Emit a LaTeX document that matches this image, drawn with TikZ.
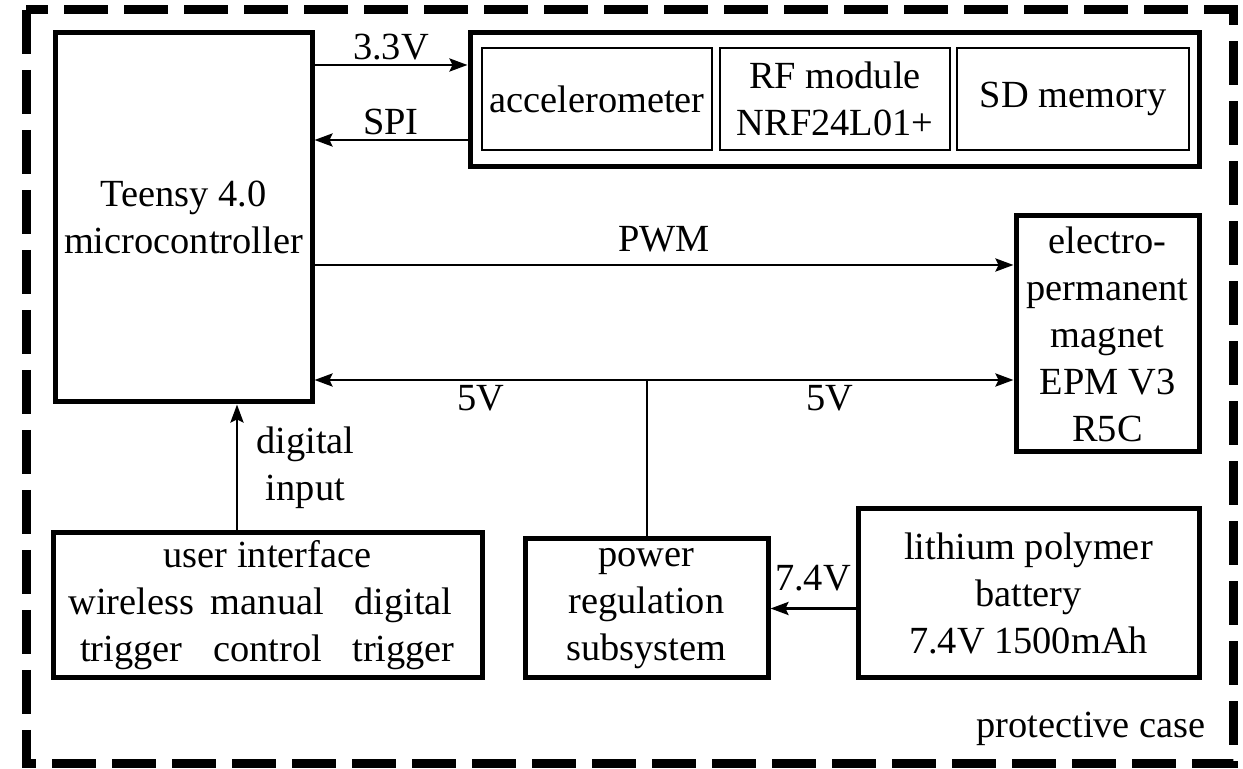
\documentclass[tikz,border=0pt]{standalone}
\usepackage{fontspec}
\setmainfont{Liberation Serif}
\usetikzlibrary{arrows.meta}

\newcommand\diagfont{\fontsize{19.2pt}{23.5pt}\selectfont}

\tikzset{
	blk/.style={draw,line width=2.5pt,inner sep=1pt,align=center,font=\diagfont},
	sub/.style={draw,line width=1.2pt,inner sep=1pt,align=center,minimum width=115pt,minimum height=51pt,font=\diagfont},
	lbl/.style={inner sep=2pt,font=\diagfont},
}

\begin{document}
\begin{tikzpicture}[x=0.5pt,y=-0.5pt,line width=1.4pt,>={Stealth[length=9pt,width=6.5pt,inset=1.5pt]}]
	\useasboundingbox (0,0) rectangle (1243,769);
	% case outline
	\draw[line width=4.5pt,dash pattern=on 22pt off 8pt] (26,10) rectangle (1233,764);
	% blocks
	\node[blk,minimum width=128.5pt,minimum height=184.5pt] (teensy) at (183.5,217.5) {Teensy 4.0\\microcontroller};
	\node[blk,minimum width=364.5pt,minimum height=67pt] (sensors) at (834.5,100) {};
	\node[sub] (accel) at (597,99) {accelerometer};
	\node[sub] (rfmod) at (835,99) {RF module\\NRF24L01+};
	\node[sub,minimum width=116pt] (sdmem) at (1073,99) {SD memory};
	\node[blk,minimum width=91.5pt,minimum height=118pt] (epm) at (1107.5,334) {electro-\\permanent\\magnet\\EPM V3\\R5C};
	\node[blk,minimum width=214.5pt,minimum height=72.5pt] (ui) at (267.5,605.5) {user interface\\
		\makebox[68pt]{wireless}\makebox[68pt]{manual}\makebox[68pt]{digital}\\
		\makebox[68pt]{trigger}\makebox[68pt]{control}\makebox[68pt]{trigger}};
	\node[blk,minimum width=121.5pt,minimum height=69.5pt] (power) at (646.5,608.5) {power\\regulation\\subsystem};
	\node[blk,minimum width=170.5pt,minimum height=84.5pt] (battery) at (1028.5,593.5) {lithium polymer\\battery\\7.4V 1500mAh};
	\node[lbl,anchor=base east,inner sep=0pt] (case) at (1207,738) {protective case};
	% signals
	\draw[->] (teensy.east |- 0,65) -- node[lbl,above]{3.3V} (sensors.west |- 0,65);
	\draw[->] (sensors.west |- 0,140) -- node[lbl,above]{SPI} (teensy.east |- 0,140);
	\draw[->] (teensy.east |- 0,265) -- node[lbl,above=4pt]{PWM} (epm.west |- 0,265);
	% power rail
	\coordinate (split) at (power.north |- 0,380);
	\draw[line width=1pt] (power.north) -- (split);
	\draw[->] (split) -- node[lbl,below]{5V} (teensy.east |- split);
	\draw[->] (split) -- node[lbl,below]{5V} (epm.west |- split);
	\draw[->] (battery.west |- power.east) -- node[lbl,above=6pt]{7.4V} (power.east);
	\draw[->] (ui.north -| 237,0) -- node[lbl,right=7pt,align=center]{digital\\input} (teensy.south -| 237,0);
\end{tikzpicture}
\end{document}
